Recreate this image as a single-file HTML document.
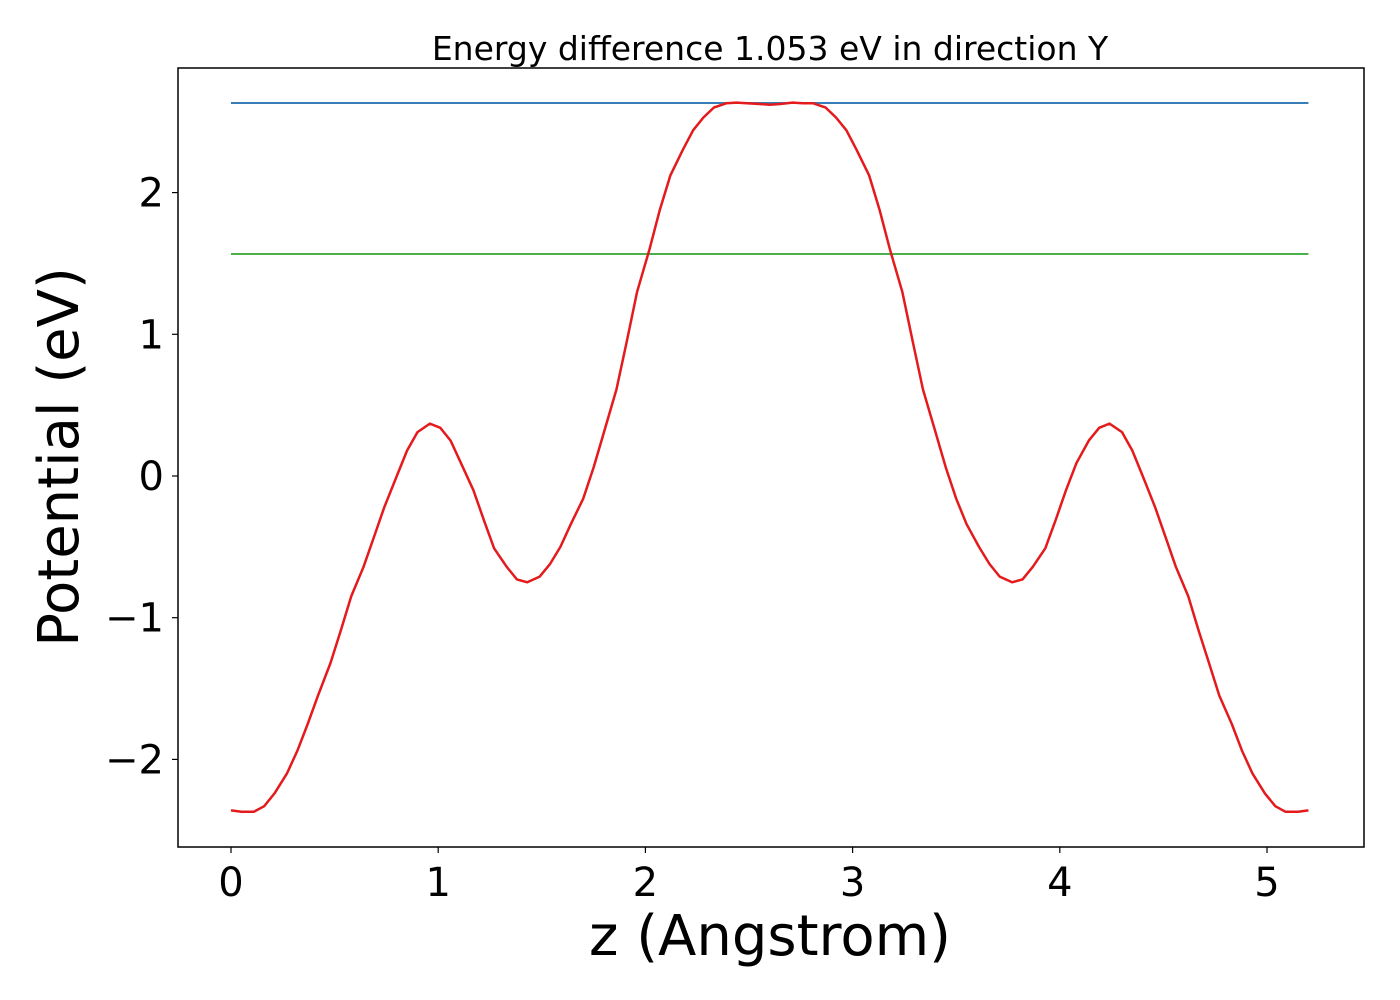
<!DOCTYPE html>
<html><head><meta charset="utf-8"><style>
html,body{margin:0;padding:0;background:#fff;}
svg{display:block;font-family:"DejaVu Sans","Liberation Sans",sans-serif;}
</style></head><body>
<svg id="chart" width="1400" height="1000" viewBox="0 0 1400 1000" xmlns="http://www.w3.org/2000/svg">
<rect x="0" y="0" width="1400" height="1000" fill="#fff"/>
<text x="770" y="60" font-size="33" text-anchor="middle">Energy difference 1.053 eV in direction Y</text>
<g id="plot"></g>
<rect x="178" y="68" width="1186" height="779" fill="none" stroke="#000" stroke-width="1.5"/>
<text x="770" y="955" font-size="56" text-anchor="middle">z (Angstrom)</text>
<text transform="translate(78,457) rotate(-90)" font-size="56" text-anchor="middle">Potential (eV)</text>
</svg>
<script>
const xTicks = [0, 1, 2, 3, 4, 5];
const yTicks = [-2, -1, 0, 1, 2];
const yTickLabels = ["\u22122", "\u22121", "0", "1", "2"];
const maxLevel = 2.632;
const minLevel = 1.567;
const zValues = [0,0.05,0.11,0.16,0.21,0.27,0.32,0.37,0.42,0.48,0.53,0.58,0.64,0.69,0.74,0.80,0.85,0.90,0.96,1.01,1.06,1.11,1.17,1.22,1.27,1.33,1.38,1.43,1.49,1.54,1.59,1.64,1.70,1.75,1.80,1.86,1.91,1.96,2.02,2.07,2.12,2.18,2.23,2.28,2.33,2.39,2.44,2.49,2.55,2.60,2.65,2.71,2.76,2.81,2.87,2.92,2.97,3.02,3.08,3.13,3.18,3.24,3.29,3.34,3.40,3.45,3.50,3.55,3.61,3.66,3.71,3.77,3.82,3.87,3.93,3.98,4.03,4.08,4.14,4.19,4.24,4.30,4.35,4.40,4.46,4.51,4.56,4.62,4.67,4.72,4.77,4.83,4.88,4.93,4.99,5.04,5.09,5.15,5.20];
const potential = [-2.36,-2.37,-2.37,-2.33,-2.24,-2.10,-1.94,-1.75,-1.55,-1.32,-1.09,-0.85,-0.64,-0.43,-0.22,0.0,0.18,0.31,0.37,0.34,0.25,0.09,-0.10,-0.31,-0.51,-0.64,-0.73,-0.75,-0.71,-0.62,-0.50,-0.34,-0.16,0.06,0.31,0.61,0.95,1.3,1.6,1.88,2.12,2.3,2.44,2.53,2.6,2.63,
2.635,2.63,2.625,2.62,2.625,2.635,2.63,
2.63,2.6,2.53,2.44,2.3,2.12,1.88,1.6,1.3,0.95,0.61,0.31,0.06,-0.16,-0.34,-0.50,-0.62,-0.71,-0.75,-0.73,-0.64,-0.51,-0.31,-0.10,0.09,0.25,0.34,0.37,0.31,0.18,0.0,-0.22,-0.43,-0.64,-0.85,-1.09,-1.32,-1.55,-1.75,-1.94,-2.10,-2.24,-2.33,-2.37,-2.37,-2.36];

const NS = "http://www.w3.org/2000/svg";
const X0 = 231, XS = 207.2, Y0 = 476, YS = 141.7;
function sx(v){ return X0 + v * XS; }
function sy(v){ return Y0 - v * YS; }
const plot = document.getElementById('plot');
function mk(tag, attrs){ const e = document.createElementNS(NS, tag); for (const k in attrs) e.setAttribute(k, attrs[k]); plot.appendChild(e); return e; }

xTicks.forEach(t => {
  const l = mk('line', {x1: sx(t), x2: sx(t), y1: 847, y2: 853, stroke: '#000', 'stroke-width': 1.2});
  
  
  const tx = mk('text', {x: sx(t), y: 896, 'font-size': 40, 'text-anchor': 'middle'});
  tx.textContent = String(t);
  
  
});
yTicks.forEach((t, i) => {
  const l = mk('line', {x1: 172, x2: 178, y1: sy(t), y2: sy(t), stroke: '#000', 'stroke-width': 1.2});
  
  
  const tx = mk('text', {x: 164, y: sy(t) + 14, 'font-size': 40, 'text-anchor': 'end'});
  tx.textContent = yTickLabels[i];
  
  
});
const zMin = zValues[0], zMax = zValues[zValues.length - 1];
const bl = mk('line', {x1: sx(zMin), x2: sx(zMax), y1: sy(maxLevel), y2: sy(maxLevel), stroke: '#377eb8', 'stroke-width': 2});


const gl = mk('line', {x1: sx(zMin), x2: sx(zMax), y1: sy(minLevel), y2: sy(minLevel), stroke: '#4daf4a', 'stroke-width': 2});


const n = Math.min(zValues.length, potential.length);
let d = '';
for (let i = 0; i < n; i++) d += (i ? 'L' : 'M') + sx(zValues[i]).toFixed(1) + ',' + sy(potential[i]).toFixed(1);
const curve = mk('path', {d: d, fill: 'none', stroke: '#e41a1c', 'stroke-width': 2.5, 'stroke-linejoin': 'round'});


</script>
</body></html>
